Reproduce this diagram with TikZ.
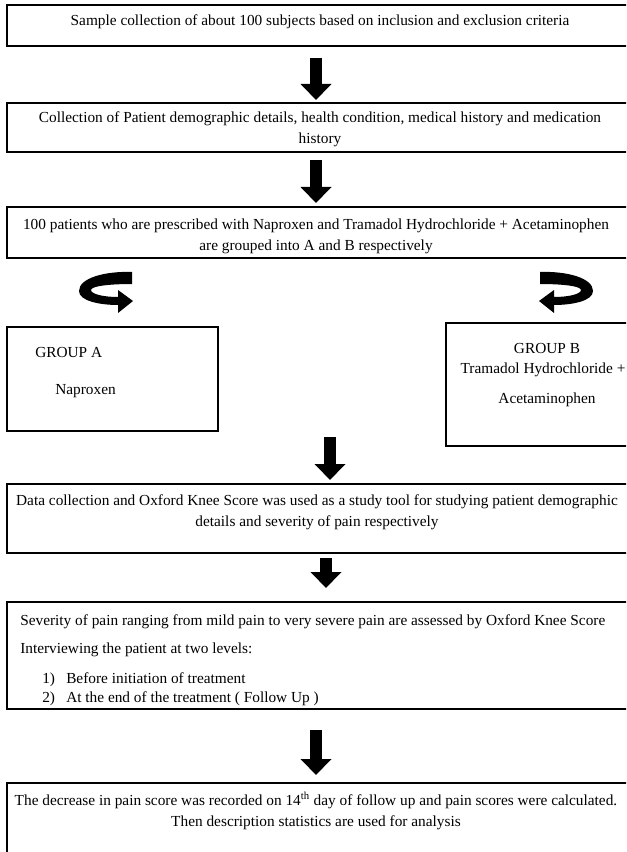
\documentclass[tikz,border=0pt]{standalone}
\usepackage{fontspec}
\setmainfont{Liberation Serif}
\usetikzlibrary{arrows.meta}
\begin{document}
\begin{tikzpicture}[x=0.75pt,y=-0.75pt,
  box/.style={draw=black, line width=1.5pt, inner sep=0pt, minimum width=#1},
  txt/.style={font=\fontsize{11.5}{15.75}\selectfont, inner sep=0pt, align=center},
  ltxt/.style={font=\fontsize{11.5}{15.75}\selectfont, inner sep=0pt, anchor=west},
  btxt/.style={font=\fontsize{11.5}{15.75}\selectfont, inner sep=0pt, anchor=base west},
  blockarrow/.style={line width=9pt, -{Triangle[width=22.5pt,length=12pt]}},
  curvearrow/.style={fill=black}]
\useasboundingbox (0,0) rectangle (626,852);
\clip (0,0) rectangle (626,852);
% boxes
\node[box=469.5pt, minimum height=30.75pt] (b1) at (320,25.5) {};
\node[box=469.5pt, minimum height=36.75pt] (b2) at (320,127.5) {};
\node[box=469.5pt, minimum height=38.25pt] (b3) at (320,232.5) {};
\node[box=158.25pt, minimum height=78pt] (ga) at (112.5,379) {};
\node[box=153pt, minimum height=92.25pt] (gb) at (548,384.5) {};
\node[box=469.5pt, minimum height=51.75pt] (b4) at (320,518.5) {};
\node[box=469.5pt, minimum height=80.25pt] (b5) at (320,655.5) {};
\node[box=469.5pt, minimum height=65.25pt] (b6) at (320,826.5) {};
% texts
\node[txt] (t1) at (320,22) {Sample collection of about 100 subjects based on inclusion and exclusion criteria};
\node[txt] (t2) at (320,129.5) {Collection of Patient demographic details, health condition, medical history and medication\\history};
\node[txt] (t3) at (316,236) {100 patients who are prescribed with Naproxen and Tramadol Hydrochloride + Acetaminophen\\are grouped into A and B respectively};
\node[ltxt] (ta1) at (35,352) {GROUP A};
\node[ltxt] (ta2) at (55,391) {Naproxen};
\node[txt] (tb1) at (547,348) {GROUP B};
\node[txt] (tb2) at (543,370) {Tramadol Hydrochloride +};
\node[txt] (tb3) at (547,400) {Acetaminophen};
\node[txt] (t4) at (317,512.5) {Data collection and Oxford Knee Score was used as a study tool for studying patient demographic\\details and severity of pain respectively};
\node[ltxt] (t5a) at (20,622) {Severity of pain ranging from mild pain to very severe pain are assessed by Oxford Knee Score};
\node[ltxt] (t5b) at (20,650) {Interviewing the patient at two levels:};
\node[btxt] (t5c) at (42,683) {1)};
\node[btxt] (t5d) at (66,683) {Before initiation of treatment};
\node[btxt] (t5e) at (42,702) {2)};
\node[btxt] (t5f) at (66,702) {At the end of the treatment ( Follow Up )};
\node[txt] (t6) at (316,811) {The decrease in pain score was recorded on 14\textsuperscript{th} day of follow up and pain scores were calculated.\\Then description statistics are used for analysis};
% straight block arrows
\coordinate (a1s) at (316,58);  \coordinate (a1e) at (316,100);
\coordinate (a2s) at (316,160); \coordinate (a2e) at (316,203);
\coordinate (a3s) at (330,437); \coordinate (a3e) at (330,480);
\coordinate (a4s) at (326,558); \coordinate (a4e) at (326,588);
\coordinate (a5s) at (316,730); \coordinate (a5e) at (316,775);
\draw[blockarrow] (a1s) -- (a1e);
\draw[blockarrow] (a2s) -- (a2e);
\draw[blockarrow] (a3s) -- (a3e);
\draw[blockarrow] (a4s) -- (a4e);
\draw[blockarrow] (a5s) -- (a5e);
% curved arrows
\fill[curvearrow] (132,272) .. controls (105,271) and (79,278) .. (79,291) .. controls (79,301) and (100,305) .. (118,305) -- (118,313) -- (133,301) -- (118,290) -- (118,297) .. controls (103,297) and (91,294) .. (91,290) .. controls (91,286) and (110,284) .. (132,284) -- cycle;
\fill[curvearrow] (540,272) .. controls (567,271) and (593,278) .. (593,291) .. controls (593,301) and (572,305) .. (554,305) -- (554,313) -- (539,301) -- (554,290) -- (554,297) .. controls (569,297) and (581,294) .. (581,290) .. controls (581,286) and (562,284) .. (540,284) -- cycle;
\end{tikzpicture}
\end{document}
